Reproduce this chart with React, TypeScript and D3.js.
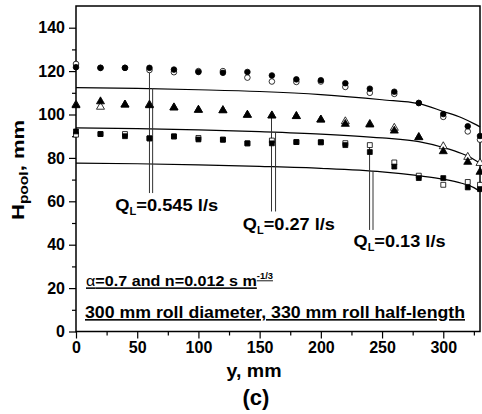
import * as d3 from 'd3';
import { useEffect, useRef } from 'react';

// distance along the roll, mm
const yPos = [0, 20, 40, 60, 80, 100, 120, 140, 160, 180, 200, 220, 240, 260, 280, 300, 320, 330];

// measured pool height, mm
const circFilled = [121.8, 121.5, 121.5, 121.5, 120.7, 119.6, 119.2, 119.6, 118, 116.2, 115.8, 114.4, 111.9, 110.5, 105.3, 100.2, 94.6, 90.1];
const circOpen = [123.3, 121.5, 121.5, 120.5, 119.5, 120, 120, 117, 115.2, 115, 115.2, 112.7, 110, 109.5, 105.3, 98.9, 92.2, 88.4];
const triFilled = [104.2, 106, 104.5, 104.2, 103.2, 102.1, 101.9, 99.8, 99.5, 99.2, 97.6, 95.6, 95.3, 92.5, 89.5, 83, 78.1, 73.5];
const triOpen = [104.5, 103.5, 104.5, 104.5, 103.2, 102.1, 101.9, 99.8, 99.5, 99.2, 97.6, 96.8, 95.6, 93.8, 89.5, 85.3, 80.4, 77.6];
const sqFilled = [92.2, 91, 90, 89, 89.9, 88.5, 88.4, 86.7, 86.7, 87.3, 87.2, 85.9, 82.7, 76, 70.7, 70.7, 66.4, 65.6];
const sqOpen = [90.7, 91, 91, 89, 89.9, 89.2, 88.4, 86.7, 88, 87.3, 87.2, 86.8, 85.9, 77.9, 71.8, 67.6, 68.9, 67.6];

// model curves
const curveY = [0, 50, 100, 150, 200, 250, 280, 300, 315, 325, 330];
const curveHigh = [112.4, 112, 111.4, 110.6, 109.2, 106.8, 105, 101.4, 98.5, 95.8, 94.3];
const curveMid = [93.8, 93.5, 92.9, 92.1, 91, 89.2, 87.5, 84.8, 82, 79.3, 77.5];
const curveLow = [77.6, 77.3, 76.8, 76.1, 75.2, 73.6, 71.8, 70.2, 68.3, 66.3, 64.5];

// flow-rate labels and their pointer lines
const qLabels = ['0.545', '0.27', '0.13'];
const qLineX = [[60, 62.6], [159.7, 163], [239.8, 242.6]];
const qLineTop = [[121.5, 112.2], [99.5, 91.8], [85.9, 74]];
const qLineEnd = [63.8, 55.3, 46.8];
const qTextX = [32, 136.3, 226.7];
const qTextY = [55.3, 46.8, 38.9];
const qTextLen = [103, 92, 92];

const FONT = "'Liberation Sans', Arial, sans-serif";

export default function App() {
  const ref = useRef<SVGSVGElement>(null);

  useEffect(() => {
    const margin = { top: 6, right: 2, bottom: 82.5, left: 76 },
      width = 482 - margin.left - margin.right,
      height = 414 - margin.top - margin.bottom;

    const x = d3.scaleLinear().domain([0, 330]).range([0, width]);
    const y = d3.scaleLinear().domain([0, 150]).range([height, 0]);

    const svg = d3.select(ref.current);
    svg.selectAll('*').remove();
    const g = svg.append('g').attr('transform', 'translate(' + margin.left + ',' + margin.top + ')');

    // minor ticks
    g.append('g')
      .attr('transform', 'translate(0,' + height + ')')
      .call(d3.axisBottom(x).tickValues(d3.range(25, 330, 50)).tickSize(4).tickFormat(() => ''))
      .call(a => a.select('.domain').remove());
    g.append('g')
      .call(d3.axisLeft(y).tickValues(d3.range(10, 150, 20)).tickSize(4).tickFormat(() => ''))
      .call(a => a.select('.domain').remove());

    const xAxis = g.append('g')
      .attr('transform', 'translate(0,' + height + ')')
      .call(d3.axisBottom(x).tickValues(d3.range(0, 301, 50)).tickSize(7).tickPadding(3));
    const yAxis = g.append('g')
      .call(d3.axisLeft(y).tickValues(d3.range(0, 141, 20)).tickSize(7).tickPadding(4));
    [xAxis, yAxis].forEach(a => {
      a.select('.domain').remove();
      a.selectAll('text').attr('font-family', FONT).attr('font-weight', 'bold').attr('font-size', 16).attr('fill', '#000');
    });
    g.selectAll('.tick line').attr('stroke', '#000').attr('stroke-width', 1.2);

    // frame
    g.append('rect')
      .attr('width', width).attr('height', height)
      .attr('fill', 'none').attr('stroke', '#000').attr('stroke-width', 1.5);

    // model curves
    const line = d3.line<number>()
      .x((_, i) => x(curveY[i]))
      .y(d => y(d))
      .curve(d3.curveMonotoneX);
    [curveHigh, curveMid, curveLow].forEach(c => {
      g.append('path').attr('d', line(c)).attr('fill', 'none').attr('stroke', '#000').attr('stroke-width', 1.2);
    });

    // pointer lines
    qLineX.forEach((xs, k) => {
      xs.forEach((xv, j) => {
        g.append('line')
          .attr('x1', x(xv)).attr('x2', x(xv))
          .attr('y1', y(qLineTop[k][j])).attr('y2', y(qLineEnd[k]))
          .attr('stroke', '#333').attr('stroke-width', 1);
      });
    });

    // markers
    const tri = d3.symbol().type(d3.symbolTriangle).size(28);
    const sq = d3.symbol().type(d3.symbolSquare).size(24);
    const series = [
      { vals: sqOpen, shape: 'sq', fill: '#fff' },
      { vals: sqFilled, shape: 'sq', fill: '#000' },
      { vals: triOpen, shape: 'tri', fill: '#fff' },
      { vals: triFilled, shape: 'tri', fill: '#000' },
      { vals: circOpen, shape: 'circ', fill: '#fff' },
      { vals: circFilled, shape: 'circ', fill: '#000' },
    ];
    series.forEach(s => {
      const sel = g.append('g').selectAll('.m').data(s.vals).enter();
      if (s.shape === 'circ') {
        sel.append('circle')
          .attr('cx', (_, i) => x(yPos[i])).attr('cy', d => y(d)).attr('r', 2.8)
          .attr('fill', s.fill).attr('stroke', '#000').attr('stroke-width', 0.8);
      } else {
        sel.append('path')
          .attr('d', s.shape === 'tri' ? tri() : sq())
          .attr('transform', (d, i) => 'translate(' + x(yPos[i]) + ',' + y(d) + ')')
          .attr('fill', s.fill).attr('stroke', '#000').attr('stroke-width', 0.8);
      }
    });

    // flow-rate labels
    qLabels.forEach((q, k) => {
      const t = g.append('text')
        .attr('x', x(qTextX[k])).attr('y', y(qTextY[k]))
        .attr('textLength', qTextLen[k]).attr('lengthAdjust', 'spacingAndGlyphs')
        .attr('font-family', FONT).attr('font-weight', 'bold').attr('font-size', 16.5);
      t.append('tspan').text('Q');
      t.append('tspan').attr('font-size', 10).attr('dy', 4).text('L');
      t.append('tspan').attr('dy', -4).text('=' + q + ' l/s');
    });

    // parameter notes
    const note1 = g.append('text')
      .attr('x', 10).attr('y', y(20.8))
      .attr('textLength', 187).attr('lengthAdjust', 'spacingAndGlyphs')
      .attr('font-family', FONT).attr('font-weight', 'bold').attr('font-size', 15.5)
      .attr('text-decoration', 'underline');
    note1.append('tspan').attr('font-weight', 'normal').text('α');
    note1.append('tspan').text('=0.7 and n=0.012 s m');
    note1.append('tspan').attr('font-size', 9).attr('dy', -7).text('-1/3');

    g.append('text')
      .attr('x', 9).attr('y', y(6.2))
      .attr('textLength', 380).attr('lengthAdjust', 'spacingAndGlyphs')
      .attr('font-family', FONT).attr('font-weight', 'bold').attr('font-size', 16)
      .attr('text-decoration', 'underline')
      .text('300 mm roll diameter, 330 mm roll half-length');

    // axis titles
    svg.append('text')
      .attr('x', 254).attr('y', 377)
      .attr('text-anchor', 'middle')
      .attr('textLength', 55).attr('lengthAdjust', 'spacingAndGlyphs')
      .attr('font-family', FONT).attr('font-weight', 'bold').attr('font-size', 18)
      .text('y, mm');
    svg.append('text')
      .attr('x', 256).attr('y', 405)
      .attr('text-anchor', 'middle')
      .attr('font-family', FONT).attr('font-weight', 'bold').attr('font-size', 22)
      .text('(c)');

    const yt = svg.append('text')
      .attr('transform', 'translate(24,170) rotate(-90)')
      .attr('text-anchor', 'middle')
      .attr('textLength', 100).attr('lengthAdjust', 'spacingAndGlyphs')
      .attr('font-family', FONT).attr('font-weight', 'bold').attr('font-size', 17);
    yt.append('tspan').text('H');
    yt.append('tspan').attr('font-size', 12).attr('dy', 4).text('pool');
    yt.append('tspan').attr('dy', -4).text(', mm');
  }, []);

  return (
    <svg ref={ref} width={482} height={414}
      style={{ position: 'absolute', left: 0, top: 0, background: '#fff' }} />
  );
}
